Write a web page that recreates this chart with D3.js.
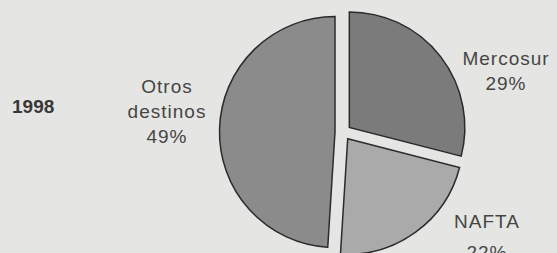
<!DOCTYPE html>
<html>
<head>
<meta charset="utf-8">
<script src="https://cdn.jsdelivr.net/npm/d3@7/dist/d3.min.js"></script>
<style>
  html, body { margin: 0; padding: 0; background: #e5e5e3; }
  svg { display: block; }
  text { font-family: "Liberation Sans", Arial, Helvetica, sans-serif; }
</style>
</head>
<body>
<svg id="chart" width="557" height="253"></svg>
<script>
// ---- data ----
const categories = ["Mercosur", "NAFTA", "Otros destinos"];
const values = [29, 22, 49];
const labelLines = [["Mercosur", "29%"], ["NAFTA", "22%"], ["Otros", "destinos", "49%"]];
const yearLabel = "1998";
const fills = ["#7b7b7b", "#aaaaaa", "#8b8b8b"];

// ---- layout ----
const W = 557, H = 253;
const cx = 343, cy = 132.3, R = 115.5, explode = 8;
const labelPos = [[506, 65], [487, 228], [167, 93]]; // first-line baselines
const lineGaps = [[0, 25], [0, 31], [0, 25, 50]];

const svg = d3.select("#chart");
svg.append("rect").attr("width", W).attr("height", H).attr("fill", "#e5e5e3");

const pie = d3.pie().sort(null).value(d => d)(values);
const arc = d3.arc().innerRadius(0).outerRadius(R);

const g = svg.append("g").attr("transform", `translate(${cx},${cy})`);

g.selectAll("path.slice")
  .data(pie)
  .join("path")
  .attr("class", "slice")
  .attr("transform", d => {
    const a = (d.startAngle + d.endAngle) / 2;
    return `translate(${explode * Math.sin(a)},${-explode * Math.cos(a)})`;
  })
  .attr("d", arc)
  .attr("fill", (d, i) => fills[i])
  .attr("stroke", "#2b2b2b")
  .attr("stroke-width", 1.5)
  .attr("stroke-linejoin", "miter");

// slice labels
categories.forEach((c, i) => {
  const t = svg.append("text")
    .attr("text-anchor", "middle")
    .attr("font-size", 19)
    .attr("letter-spacing", 1)
    .attr("fill", "#454545");
  labelLines[i].forEach((ln, j) => {
    t.append("tspan")
      .attr("x", labelPos[i][0])
      .attr("y", labelPos[i][1] + lineGaps[i][j])
      .text(ln);
  });
});

// year label
svg.append("text")
  .attr("x", 12).attr("y", 113)
  .attr("font-size", 19)
  .attr("font-weight", "bold")
  .attr("fill", "#383838")
  .text(yearLabel);
</script>
</body>
</html>
